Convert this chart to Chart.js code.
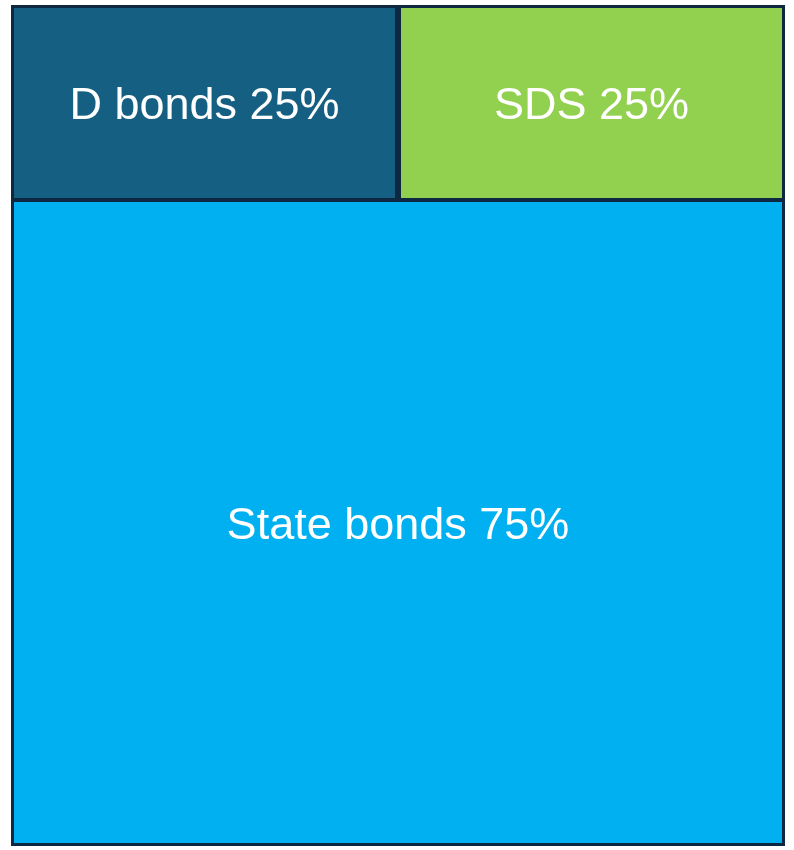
<!DOCTYPE html>
<html>
<head>
<meta charset="utf-8">
<script src="https://cdn.jsdelivr.net/npm/chart.js@4.4.1/dist/chart.umd.min.js"></script>
<style>
html,body{margin:0;padding:0;background:#ffffff;}
#wrap{width:794px;height:850px;}
</style>
</head>
<body>
<div id="wrap"><canvas id="c" width="794" height="850"></canvas></div>
<script>
// Columns of the treemap (top row split in two, bottom row spans both)
const columns = ["left", "right"];
// Top-row tiles
const topLabels = ["D bonds 25%", "SDS 25%"];
const topShare = [23.2, 23.2];
const topColors = ["#156082", "#92D050"];
// Bottom tile (spans both columns)
const bottomLabel = "State bonds 75%";
const bottomShare = [76.8, 76.8];
const bottomColor = "#00B0F0";
const edgeColor = "#0E2841";

const B = 3; // outer edge
const I = 2; // inner edge

const edgeBackdrop = {
  id: 'edgeBackdrop',
  beforeDatasetsDraw(chart) {
    const a = chart.chartArea, ctx = chart.ctx;
    ctx.save();
    ctx.fillStyle = edgeColor;
    ctx.fillRect(a.left, a.top, a.right - a.left, a.bottom - a.top);
    ctx.restore();
  }
};

const labelPlugin = {
  id: 'tileLabels',
  afterDatasetsDraw(chart) {
    const ctx = chart.ctx;
    const fs = 45;
    ctx.save();
    ctx.fillStyle = '#ffffff';
    ctx.font = fs + 'px "Liberation Sans", Arial, sans-serif';
    ctx.textAlign = 'center';
    ctx.textBaseline = 'alphabetic';
    const mb = chart.getDatasetMeta(0).data;
    const l0 = mb[0].x - mb[0].width / 2, r1 = mb[1].x + mb[1].width / 2;
    const cyb = (mb[0].y + mb[0].base) / 2;
    ctx.fillText(bottomLabel, (l0 + r1) / 2, cyb + fs * 0.36);
    const mt = chart.getDatasetMeta(1).data;
    mt.forEach((el, i) => {
      const cy = (el.y + el.base) / 2;
      ctx.fillText(topLabels[i], el.x, cy + fs * 0.36);
    });
    ctx.restore();
  }
};

new Chart(document.getElementById('c'), {
  type: 'bar',
  data: {
    labels: columns,
    datasets: [
      {
        label: bottomLabel,
        data: bottomShare,
        backgroundColor: bottomColor,
        borderColor: edgeColor,
        borderSkipped: false,
        inflateAmount: 0,
        borderWidth: (c) => c.dataIndex === 0
          ? {left: B, bottom: B, top: I, right: 0}
          : {left: 0, bottom: B, top: I, right: B}
      },
      {
        label: 'top',
        data: topShare,
        backgroundColor: topColors,
        borderColor: edgeColor,
        borderSkipped: false,
        inflateAmount: 0,
        borderWidth: {left: B, top: B, bottom: I, right: B}
      }
    ]
  },
  options: {
    responsive: false,
    animation: false,
    events: [],
    layout: {padding: {left: 11, right: 9, top: 5, bottom: 4}},
    plugins: {legend: {display: false}, tooltip: {enabled: false}, title: {display: false}},
    scales: {
      x: {display: false, stacked: true, offset: true, grid: {display: false}},
      y: {display: false, stacked: true, min: 0, max: 100, grid: {display: false}}
    },
    datasets: {bar: {barPercentage: 1, categoryPercentage: 1}}
  },
  plugins: [edgeBackdrop, labelPlugin]
});
</script>
</body>
</html>
